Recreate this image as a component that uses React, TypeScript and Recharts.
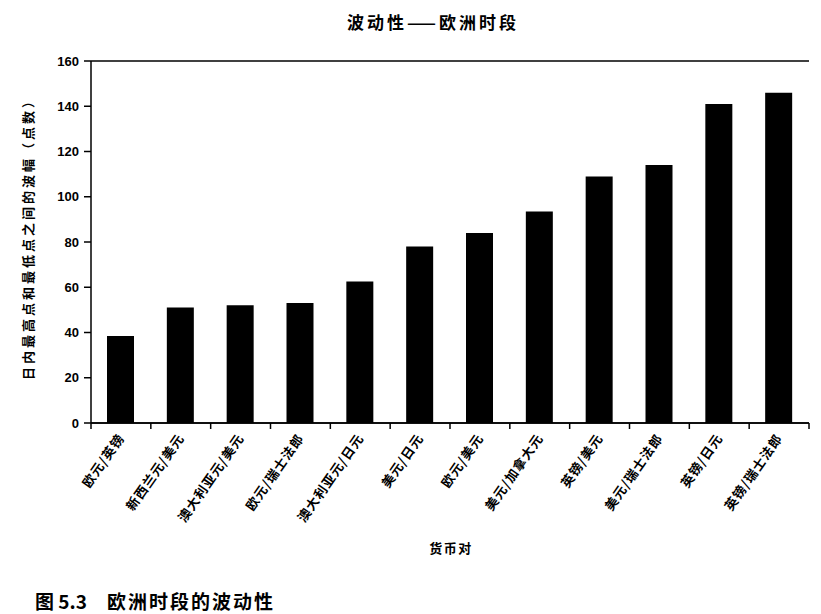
import React from 'react';
import { BarChart, Bar, XAxis, YAxis, CartesianGrid, Label } from 'recharts';

const pairs = [
  '欧元/英镑',
  '新西兰元/美元',
  '澳大利亚元/美元',
  '欧元/瑞士法郎',
  '澳大利亚元/日元',
  '美元/日元',
  '欧元/美元',
  '美元/加拿大元',
  '英镑/美元',
  '美元/瑞士法郎',
  '英镑/日元',
  '英镑/瑞士法郎',
];
const ranges = [38.5, 51, 52, 53, 62.5, 78, 84, 93.5, 109, 114, 141, 146];
const yTicks = [0, 20, 40, 60, 80, 100, 120, 140, 160];

const data = pairs.map((pair, i) => ({ pair, range: ranges[i] }));

const W = 821;
const H = 614;
const M = { top: 61, right: 12, left: 41, bottom: 0 };
const Y_W = 50;
const X_H = H - M.top - 362;
const band = (W - M.left - Y_W - M.right) / pairs.length;

const font = '"Liberation Sans", Arial, "Noto Sans CJK SC", sans-serif';
const cjk = '"Noto Sans CJK SC", "Liberation Sans", sans-serif';

function PairTick(props: any) {
  const { x, y, payload, index } = props;
  const last = index === pairs.length - 1;
  return (
    <g>
      <line x1={x - band / 2} y1={y} x2={x - band / 2} y2={y + 6} stroke="#000" strokeWidth={1.5} />
      {last && <line x1={x + band / 2} y1={y} x2={x + band / 2} y2={y + 6} stroke="#000" strokeWidth={1.5} />}
      <text
        x={x + 4}
        y={y + 15}
        textAnchor="end"
        transform={`rotate(-55, ${x + 4}, ${y + 15})`}
        fontFamily={cjk}
        fontWeight={700}
        fontSize={13}
        letterSpacing={1}
        fill="#000"
      >
        {payload.value}
      </text>
    </g>
  );
}

export default function App() {
  return (
    <div style={{ position: 'absolute', left: 0, top: 0, width: W, height: H, background: '#fff' }}>
      <div
        style={{
          position: 'absolute',
          left: 0,
          top: 9,
          width: 866,
          textAlign: 'center',
          fontFamily: cjk,
          fontWeight: 700,
          fontSize: 17,
          letterSpacing: 3,
        }}
      >
        波动性<span style={{ letterSpacing: 0, marginRight: 3 }}>——</span>欧洲时段
      </div>
      <BarChart width={W} height={H} data={data} margin={M}>
        <CartesianGrid vertical={false} stroke="#000" strokeWidth={1.5} strokeOpacity={1} />
        <XAxis
          dataKey="pair"
          interval={0}
          tickLine={false}
          tickSize={0}
          tickMargin={0}
          height={X_H}
          axisLine={{ stroke: '#000', strokeWidth: 1.5 }}
          tick={<PairTick />}
        >
          <Label
            value="货币对"
            position="insideBottom"
            offset={61}
            dx={1}
            style={{ fontFamily: cjk, fontWeight: 700, fontSize: 13, letterSpacing: 1.5, fill: '#000' }}
          />
        </XAxis>
        <YAxis
          yAxisId="left"
          width={Y_W}
          domain={[0, 160]}
          ticks={yTicks}
          interval={0}
          tickSize={7}
          tickMargin={5}
          tickLine={{ stroke: '#000', strokeWidth: 1.5 }}
          axisLine={{ stroke: '#000', strokeWidth: 1.5 }}
          tick={{ fill: '#000', fontFamily: font, fontWeight: 700, fontSize: 13 }}
        >
          <Label
            value="日内最高点和最低点之间的波幅（点数）"
            angle={-90}
            position="insideLeft"
            offset={-13}
            dy={-6}
            style={{ textAnchor: 'middle', fontFamily: cjk, fontWeight: 700, fontSize: 13, letterSpacing: 3, fill: '#000' }}
          />
        </YAxis>
        <YAxis
          yAxisId="right"
          orientation="right"
          width={0}
          domain={[0, 160]}
          tick={false}
          tickLine={false}
          axisLine={{ stroke: '#000', strokeWidth: 1.5 }}
        />
        <Bar yAxisId="left" dataKey="range" fill="#000" barSize={27} isAnimationActive={false} />
      </BarChart>
      <div
        style={{
          position: 'absolute',
          left: 35,
          top: 587,
          fontFamily: cjk,
          fontWeight: 700,
          fontSize: 19,
          whiteSpace: 'pre',
        }}
      >
        <span>图 5.3</span>
        <span style={{ marginLeft: 20, letterSpacing: 2 }}>欧洲时段的波动性</span>
      </div>
    </div>
  );
}
